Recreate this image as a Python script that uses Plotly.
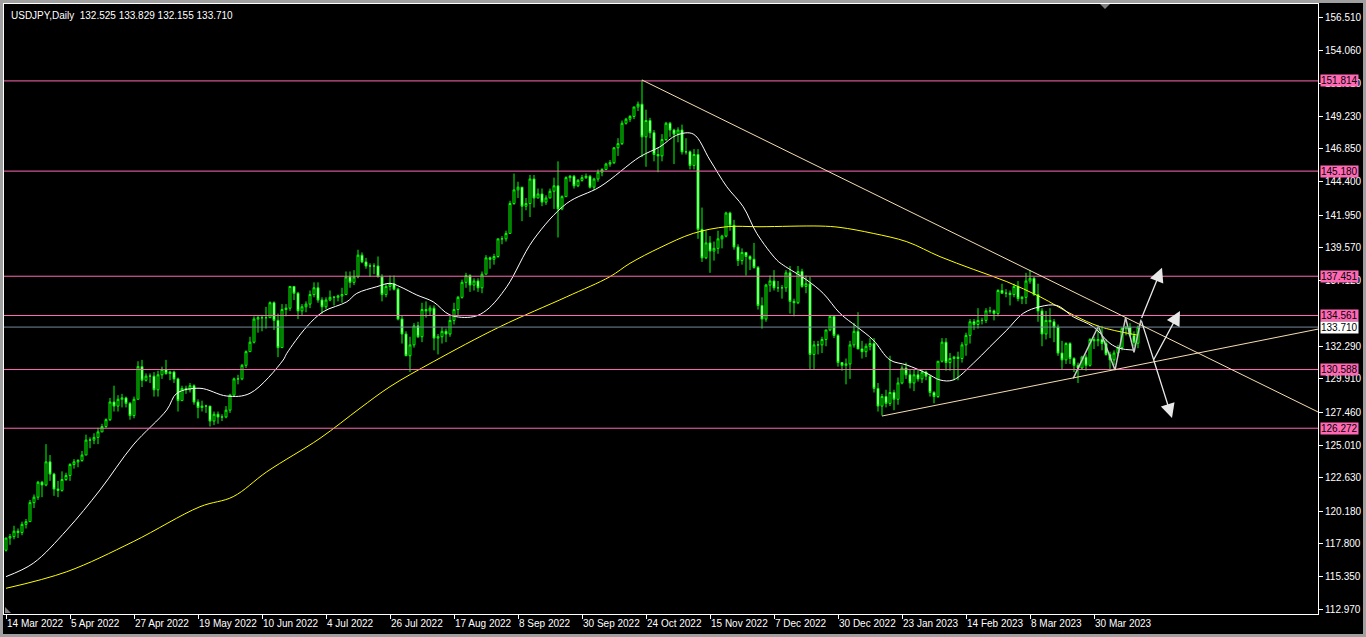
import plotly.graph_objects as go

# ---------------- data ----------------
date_labels = ["14 Mar 2022", "5 Apr 2022", "27 Apr 2022", "19 May 2022", "10 Jun 2022",
               "4 Jul 2022", "26 Jul 2022", "17 Aug 2022", "8 Sep 2022", "30 Sep 2022",
               "24 Oct 2022", "15 Nov 2022", "7 Dec 2022", "30 Dec 2022", "23 Jan 2023",
               "14 Feb 2023", "8 Mar 2023", "30 Mar 2023"]
label_bars = [0, 16, 32, 48, 64, 80, 96, 112, 128, 144, 160, 176, 192, 208, 224, 240, 256, 272]

# daily OHLC (bar index 0 = 14 Mar 2022 ... 283 = 14 Apr 2023)
ohlc = [
    (117.3, 118.2, 117.2, 118.2), (118.2, 118.5, 117.7, 118.3), (118.3, 119.1, 118.1, 118.7),
    (118.7, 118.9, 118.2, 118.6), (118.6, 119.4, 118.4, 119.2), (119.2, 119.6, 118.9, 119.4),
    (119.4, 121.0, 119.4, 120.8), (120.8, 121.4, 120.4, 121.2), (121.2, 122.4, 121.0, 122.3),
    (122.3, 122.4, 121.2, 122.1), (122.1, 125.1, 122.0, 123.8), (123.8, 124.3, 122.4, 122.9),
    (122.9, 123.0, 121.3, 121.8), (121.8, 122.4, 121.2, 121.7), (121.7, 123.1, 121.6, 122.5),
    (122.5, 123.0, 122.4, 122.8), (122.8, 123.7, 122.4, 123.6), (123.6, 124.0, 123.3, 123.8),
    (123.8, 124.0, 123.4, 123.9), (123.9, 124.6, 123.8, 124.3), (124.3, 125.8, 124.3, 125.4),
    (125.4, 125.6, 124.8, 125.4), (125.4, 125.9, 125.1, 125.6), (125.6, 126.3, 125.1, 126.0),
    (126.0, 126.6, 126.0, 126.4), (126.4, 127.0, 126.3, 126.9), (126.9, 128.5, 126.8, 128.2),
    (128.2, 129.4, 127.5, 127.9), (127.9, 128.7, 127.5, 128.4), (128.4, 128.8, 127.8, 128.5),
    (128.5, 128.6, 127.8, 128.1), (128.1, 128.2, 126.9, 127.2), (127.2, 128.6, 127.0, 128.4),
    (128.4, 131.2, 128.4, 130.8), (130.8, 131.3, 129.3, 129.8), (129.8, 130.3, 129.7, 130.1),
    (130.1, 130.3, 129.6, 130.1), (130.1, 130.4, 128.6, 129.1), (129.1, 130.5, 128.6, 130.2),
    (130.2, 130.8, 129.9, 130.6), (130.6, 131.3, 130.2, 130.3), (130.3, 130.5, 129.8, 130.4),
    (130.4, 130.5, 129.6, 129.9), (129.9, 130.0, 127.5, 128.3), (128.3, 129.4, 128.3, 129.2),
    (129.2, 129.4, 128.8, 129.1), (129.1, 129.6, 128.9, 129.4), (129.4, 129.5, 128.0, 128.2),
    (128.2, 128.4, 127.0, 127.8), (127.8, 128.3, 127.5, 127.9), (127.9, 128.0, 127.4, 127.9),
    (127.9, 127.9, 126.4, 126.8), (126.8, 127.5, 126.5, 127.3), (127.3, 127.5, 126.6, 127.1),
    (127.1, 127.3, 126.8, 127.1), (127.1, 127.9, 127.0, 127.6), (127.6, 128.8, 127.4, 128.7),
    (128.7, 130.0, 128.7, 129.9), (129.9, 130.2, 129.5, 129.9), (129.9, 131.0, 129.8, 130.9),
    (130.9, 132.0, 130.7, 131.9), (131.9, 133.0, 131.9, 132.6), (132.6, 134.5, 132.5, 134.3),
    (134.3, 134.6, 133.3, 134.4), (134.4, 134.6, 133.4, 134.4), (134.4, 135.2, 133.6, 134.4),
    (134.4, 135.6, 134.4, 135.5), (135.5, 135.6, 133.5, 134.2), (134.2, 134.7, 131.5, 132.2),
    (132.2, 135.4, 132.2, 135.0), (135.0, 135.4, 134.5, 135.1), (135.1, 136.7, 134.9, 136.7),
    (136.7, 136.7, 135.7, 136.2), (136.2, 136.3, 134.3, 134.9), (134.9, 135.4, 134.6, 135.2),
    (135.2, 135.6, 134.8, 135.4), (135.4, 136.4, 135.1, 136.1), (136.1, 137.0, 135.9, 136.6),
    (136.6, 137.0, 135.5, 135.7), (135.7, 135.9, 134.7, 135.2), (135.2, 135.9, 135.0, 135.7),
    (135.7, 136.4, 135.6, 135.9), (135.9, 136.0, 135.3, 135.9), (135.9, 136.1, 135.6, 136.0),
    (136.0, 136.6, 135.5, 136.1), (136.1, 137.8, 136.1, 137.4), (137.4, 137.8, 136.6, 137.0),
    (137.0, 137.9, 136.8, 137.4), (137.4, 139.4, 137.3, 139.0), (139.0, 139.2, 138.4, 138.5),
    (138.5, 138.8, 138.0, 138.2), (138.2, 138.4, 137.4, 138.2), (138.2, 138.4, 137.6, 138.2),
    (138.2, 138.9, 137.4, 137.4), (137.4, 137.6, 135.6, 136.1), (136.1, 136.9, 135.9, 136.7),
    (136.7, 137.5, 136.4, 136.9), (136.9, 137.5, 136.4, 136.5), (136.5, 136.6, 134.2, 134.3),
    (134.3, 134.6, 132.5, 133.2), (133.2, 133.4, 131.6, 131.6), (131.6, 133.0, 130.4, 132.4),
    (132.4, 134.0, 132.2, 133.8), (133.8, 134.1, 132.9, 133.0), (133.0, 135.5, 132.6, 135.0),
    (135.0, 135.6, 134.4, 134.9), (134.9, 135.3, 134.6, 135.1), (135.1, 135.3, 132.0, 132.9),
    (132.9, 133.2, 131.7, 133.0), (133.0, 133.7, 132.5, 133.4), (133.4, 133.6, 132.6, 133.2),
    (133.2, 134.6, 133.0, 134.2), (134.2, 135.5, 133.9, 135.0), (135.0, 136.0, 134.6, 135.9),
    (135.9, 137.2, 135.8, 137.0), (137.0, 137.7, 136.6, 137.5), (137.5, 137.6, 136.3, 136.8),
    (136.8, 137.3, 136.4, 137.1), (137.1, 137.3, 136.3, 136.6), (136.6, 137.8, 136.2, 137.6),
    (137.6, 139.0, 137.6, 138.8), (138.8, 138.9, 138.0, 138.7), (138.7, 139.1, 138.3, 138.9),
    (138.9, 140.2, 138.8, 140.2), (140.2, 140.4, 139.8, 140.2), (140.2, 140.8, 140.0, 140.6),
    (140.6, 143.0, 140.6, 142.8), (142.8, 145.0, 142.7, 143.8), (143.8, 144.4, 143.2, 144.0),
    (144.0, 144.0, 141.5, 142.6), (142.6, 143.2, 142.3, 142.8), (142.8, 144.9, 141.8, 144.6),
    (144.6, 144.9, 142.5, 143.2), (143.2, 143.9, 143.2, 143.5), (143.5, 143.9, 142.6, 142.9),
    (142.9, 143.4, 142.7, 143.2), (143.2, 143.9, 143.2, 143.7), (143.7, 144.7, 142.4, 144.1),
    (144.1, 145.9, 140.3, 142.4), (142.4, 143.4, 142.3, 143.3), (143.3, 144.8, 143.3, 144.7),
    (144.7, 144.9, 144.4, 144.8), (144.8, 144.9, 143.9, 144.1), (144.1, 144.6, 144.0, 144.5),
    (144.5, 144.9, 144.4, 144.7), (144.7, 145.0, 144.6, 144.8), (144.8, 144.9, 143.9, 144.0),
    (144.0, 144.7, 143.8, 144.6), (144.6, 145.3, 144.4, 145.1), (145.1, 145.4, 144.8, 145.3),
    (145.3, 145.8, 145.3, 145.7), (145.7, 146.0, 145.5, 145.8), (145.8, 146.9, 145.7, 146.9),
    (146.9, 147.6, 146.3, 147.2), (147.2, 148.9, 147.1, 148.7), (148.7, 149.1, 148.6, 149.0),
    (149.0, 149.3, 148.8, 149.2), (149.2, 149.9, 149.0, 149.9), (149.9, 150.3, 149.6, 150.1),
    (150.1, 151.9, 146.2, 147.7), (147.7, 149.7, 145.5, 148.9), (148.9, 149.1, 147.6, 148.0),
    (148.0, 148.2, 145.9, 146.4), (146.4, 146.9, 145.1, 146.3), (146.3, 147.9, 145.9, 147.5),
    (147.5, 148.8, 147.4, 148.7), (148.7, 148.8, 147.7, 148.2), (148.2, 148.3, 145.7, 147.9),
    (147.9, 148.4, 147.3, 148.2), (148.2, 148.6, 146.4, 146.6), (146.6, 147.6, 146.4, 146.6),
    (146.6, 146.7, 145.3, 145.6), (145.6, 146.8, 145.3, 146.4), (146.4, 146.8, 140.2, 140.9),
    (140.9, 142.5, 138.5, 138.8), (138.8, 140.8, 138.7, 139.9), (139.9, 140.4, 137.7, 139.3),
    (139.3, 140.0, 138.6, 139.5), (139.5, 140.8, 139.1, 140.2), (140.2, 140.5, 139.5, 140.4),
    (140.4, 142.2, 140.3, 142.1), (142.1, 142.2, 140.8, 141.2), (141.2, 141.6, 139.4, 139.6),
    (139.6, 139.8, 138.2, 138.6), (138.6, 139.5, 138.3, 139.2), (139.2, 139.2, 137.5, 138.9),
    (138.9, 139.0, 137.9, 138.7), (138.7, 139.9, 138.0, 138.1), (138.1, 138.2, 135.0, 135.3),
    (135.3, 135.9, 133.6, 134.3), (134.3, 136.9, 134.1, 136.8), (136.8, 137.5, 136.3, 137.1),
    (137.1, 137.9, 136.4, 136.6), (136.6, 137.1, 136.3, 136.6), (136.6, 136.8, 135.8, 136.6),
    (136.6, 137.9, 136.3, 137.7), (137.7, 138.2, 134.7, 135.6), (135.6, 135.8, 134.5, 135.5),
    (135.5, 138.2, 135.4, 137.8), (137.8, 138.0, 136.6, 136.7), (136.7, 137.5, 136.2, 136.9),
    (136.9, 137.4, 130.6, 131.7), (131.7, 132.7, 130.6, 132.4), (132.4, 132.7, 131.7, 132.4),
    (132.4, 133.0, 131.8, 132.8), (132.8, 133.5, 132.3, 133.5), (133.5, 134.5, 133.4, 134.5),
    (134.5, 134.6, 132.9, 133.1), (133.1, 133.2, 130.8, 131.1), (131.1, 131.1, 130.5, 130.9),
    (130.9, 131.4, 129.5, 131.0), (131.0, 132.7, 129.9, 132.4), (132.4, 134.0, 132.2, 133.4),
    (133.4, 134.8, 132.1, 132.1), (132.1, 132.7, 131.4, 131.9), (131.9, 132.5, 131.5, 132.3),
    (132.3, 132.9, 132.0, 132.5), (132.5, 132.9, 128.9, 129.2), (129.2, 129.6, 127.5, 127.9),
    (127.9, 128.8, 127.2, 128.6), (128.6, 129.1, 127.8, 128.1), (128.1, 131.6, 127.9, 128.9),
    (128.9, 129.1, 127.6, 128.4), (128.4, 130.0, 128.0, 129.6), (129.6, 130.9, 129.5, 130.7),
    (130.7, 131.1, 129.9, 130.2), (130.2, 130.6, 129.2, 129.6), (129.6, 130.6, 129.0, 130.2),
    (130.2, 130.6, 129.7, 129.9), (129.9, 130.6, 129.6, 130.4), (130.4, 130.5, 129.8, 130.1),
    (130.1, 130.2, 128.6, 128.9), (128.9, 129.0, 128.1, 128.6), (128.6, 131.2, 128.5, 131.2),
    (131.2, 132.9, 131.1, 132.6), (132.6, 132.9, 130.5, 131.1), (131.1, 131.8, 130.5, 131.4),
    (131.4, 131.6, 129.8, 131.5), (131.5, 131.9, 129.8, 131.4), (131.4, 132.6, 131.1, 132.4),
    (132.4, 133.3, 131.6, 133.1), (133.1, 134.3, 132.5, 134.1), (134.1, 134.3, 133.5, 133.9),
    (133.9, 135.1, 133.6, 134.2), (134.2, 134.4, 133.9, 134.2), (134.2, 135.1, 134.0, 134.9),
    (134.9, 135.2, 134.7, 134.9), (134.9, 135.0, 134.2, 134.7), (134.7, 136.5, 134.5, 136.4),
    (136.4, 136.9, 136.2, 136.2), (136.2, 136.5, 135.9, 136.2), (136.2, 136.4, 135.3, 136.1),
    (136.1, 136.9, 135.9, 136.7), (136.7, 137.1, 135.6, 135.8), (135.8, 136.0, 135.4, 135.9),
    (135.9, 137.7, 135.4, 137.1), (137.1, 137.9, 136.9, 137.3), (137.3, 137.4, 136.0, 136.1),
    (136.1, 136.9, 134.1, 134.9), (134.9, 135.1, 132.3, 133.2), (133.2, 134.9, 132.8, 134.2),
    (134.2, 135.1, 132.9, 134.1), (134.1, 134.3, 132.6, 133.7), (133.7, 133.9, 131.6, 131.8),
    (131.8, 132.7, 130.6, 131.3), (131.3, 132.6, 131.0, 132.5), (132.5, 132.6, 131.0, 131.4),
    (131.4, 131.5, 130.4, 130.9), (130.9, 131.1, 129.6, 130.7), (130.7, 131.6, 130.6, 131.5),
    (131.5, 131.7, 130.5, 130.9), (130.9, 132.9, 130.8, 132.8), (132.8, 133.0, 132.1, 132.7),
    (132.7, 133.6, 132.3, 132.8), (132.8, 133.8, 132.0, 132.5), (132.5, 132.8, 131.6, 131.7),
    (131.7, 131.9, 130.6, 131.3), (131.3, 132.0, 130.9, 131.8), (131.8, 132.4, 131.6, 132.2),
    (132.2, 133.7, 132.0, 133.6), (133.6, 133.8, 133.1, 133.7), (133.7, 134.0, 133.0, 133.1),
    (133.1, 133.4, 132.3, 132.6), (132.525, 133.829, 132.155, 133.710),
]
opens = [r[0] for r in ohlc]
highs = [r[1] for r in ohlc]
lows = [r[2] for r in ohlc]
closes = [r[3] for r in ohlc]
bars = list(range(len(ohlc)))

# moving averages (bar index, price)
ma_fast_x = [0, 6.8, 15.2, 23.5, 31.8, 40.2, 42.7, 48.5, 55.2, 61, 69.3, 70.2, 75.2, 79.3, 85.2,
             87.7, 92.7, 96, 98.5, 102.7, 106.8, 111, 116.8, 120.2, 125.2, 131.8, 140.2, 148.5,
             158.5, 163.5, 167.7, 171.8, 176, 180.2, 184.3, 187.7, 192.7, 194.3, 200.2, 204.3,
             208.5, 212.7, 216.8, 221, 225.2, 230.2, 233.5, 236.8, 241.8, 246, 250.2, 254.3,
             258.5, 262.7, 266.8, 271.8, 276, 278.5, 281.8]
ma_fast_y = [115.36, 116.34, 118.79, 121.73, 125.04, 127.62, 128.84, 129.21, 128.64, 128.84,
             131.29, 131.78, 133.74, 134.84, 135.57, 136.19, 136.68, 136.93, 136.68, 136.07,
             135.57, 134.60, 134.47, 134.97, 136.68, 140.11, 142.81, 144.03, 146.24, 146.97,
             147.83, 147.91, 145.99, 144.03, 142.56, 140.60, 138.64, 138.27, 137.17, 136.19,
             134.72, 133.74, 132.76, 131.29, 130.92, 130.31, 129.82, 129.82, 131.04, 132.27,
             133.49, 134.72, 135.21, 135.30, 134.47, 133.74, 132.51, 132.14, 132.02]
ma_slow_x = [0, 15.2, 31.8, 48.5, 56.8, 65.2, 78.5, 88.5, 96, 106.8, 123.5, 140.2, 151, 156,
             163.5, 171.8, 180.2, 188.5, 203.5, 208.5, 216.8, 225.2, 233.5, 241.8, 250.2,
             258.5, 266.8, 273.5, 282.7]
ma_slow_y = [114.50, 115.72, 117.93, 120.50, 121.24, 123.07, 125.53, 127.74, 129.33, 131.16,
             133.74, 135.94, 137.42, 138.40, 139.55, 140.60, 141.09, 141.09, 141.14, 141.04,
             140.60, 139.99, 138.89, 137.96, 137.05, 135.94, 134.60, 133.74, 133.13]

# horizontal levels and current price
levels = [151.814, 145.180, 137.451, 134.561, 130.588, 126.272]
current_price = 133.710
y_ticks = [156.510, 154.060, 151.610, 149.230, 146.850, 144.400, 141.950, 139.570, 137.120,
           132.290, 129.910, 127.460, 125.010, 122.630, 120.180, 117.800, 115.350, 112.970]

# drawn objects (bar index, price)
trend_lines = [((159, 151.88), (328, 127.47)), ((219, 127.17), (328, 133.56))]
zigzag_x = [266.8, 273.1, 277.25, 279.9, 282.0, 283.75]
zigzag_y = [129.94, 133.79, 130.55, 134.40, 131.86, 134.26]
arrows = [((283.75, 134.26), (289.0, 138.08)),
          ((283.75, 134.26), (291.5, 127.02)),
          ((286.75, 131.22), (293.5, 134.90))]

# ---------------- figure ----------------
W, H = 1366, 637
ML, MR, MT, MB = 4, 48, 4, 23
PW, PH = W - ML - MR, H - MT - MB


def px_x(p):
    return (p - ML) / PW


def px_y(p):
    return (H - MB - p) / PH


FONT = "Liberation Sans"
fig = go.Figure()

fig.add_trace(go.Candlestick(
    x=bars, open=opens, high=highs, low=lows, close=closes,
    increasing=dict(line=dict(color="#00FF00", width=1), fillcolor="#000000"),
    decreasing=dict(line=dict(color="#00FF00", width=1), fillcolor="#FFFFFF"),
    whiskerwidth=0, showlegend=False, hoverinfo="skip"))

fig.add_trace(go.Scatter(x=ma_slow_x, y=ma_slow_y, mode="lines",
                         line=dict(color="#FFFF00", width=1, shape="spline"),
                         showlegend=False, hoverinfo="skip"))
fig.add_trace(go.Scatter(x=ma_fast_x, y=ma_fast_y, mode="lines",
                         line=dict(color="#FFFFFF", width=1, shape="spline"),
                         showlegend=False, hoverinfo="skip"))

shapes = []
# window frame (gray bevel)
shapes.append(dict(type="rect", xref="paper", yref="paper", layer="below",
                   x0=px_x(3), x1=px_x(1363), y0=px_y(634), y1=px_y(3),
                   fillcolor="#000000", line=dict(width=0)))
for lv in levels:
    shapes.append(dict(type="line", xref="paper", yref="y", x0=0, x1=1, y0=lv, y1=lv,
                       line=dict(color="#FF69B4", width=1)))
shapes.append(dict(type="line", xref="paper", yref="y", x0=0, x1=1, y0=current_price,
                   y1=current_price, line=dict(color="#778899", width=1)))
for (a, b) in trend_lines:
    shapes.append(dict(type="line", xref="x", yref="y", x0=a[0], y0=a[1], x1=b[0], y1=b[1],
                       line=dict(color="#F5DEB3", width=1)))
# chart-shift marker at top and corner marker
shapes.append(dict(type="path", xref="paper", yref="paper",
                   path=f"M {px_x(1100)} {px_y(4)} L {px_x(1110)} {px_y(4)} L {px_x(1105)} {px_y(9)} Z",
                   fillcolor="#808080", line=dict(width=0)))
shapes.append(dict(type="path", xref="paper", yref="paper",
                   path=f"M {px_x(5)} {px_y(607)} L {px_x(5)} {px_y(613)} L {px_x(11)} {px_y(613)} Z",
                   fillcolor="#808080", line=dict(width=0)))

fig.add_trace(go.Scatter(x=zigzag_x, y=zigzag_y, mode="lines",
                         line=dict(color="#C8C8C8", width=1.5),
                         showlegend=False, hoverinfo="skip"))

annotations = []
for (a, b) in arrows:
    annotations.append(dict(x=b[0], y=b[1], ax=a[0], ay=a[1], xref="x", yref="y",
                            axref="x", ayref="y", text="", showarrow=True,
                            arrowhead=2, arrowsize=2.2, arrowwidth=1.3,
                            arrowcolor="#E8E8E8"))

for lv in levels:
    annotations.append(dict(x=1, y=lv, xref="paper", yref="y", xanchor="left", yanchor="middle",
                            xshift=2, text=f"{lv:.3f}", showarrow=False, bgcolor="#FF69B4",
                            borderpad=0, font=dict(family=FONT, size=10, color="#000000")))
annotations.append(dict(x=1, y=current_price, xref="paper", yref="y", xanchor="left",
                        yanchor="middle", xshift=2, text=f"{current_price:.3f}", showarrow=False,
                        bgcolor="#FFFFFF", borderpad=0,
                        font=dict(family=FONT, size=10, color="#000000")))
annotations.append(dict(x=0, y=1, xref="paper", yref="paper", xanchor="left", yanchor="top",
                        xshift=5, yshift=-4,
                        text=f"USDJPY,Daily  {opens[-1]:.3f} {highs[-1]:.3f} {lows[-1]:.3f} {closes[-1]:.3f}",
                        showarrow=False, font=dict(family=FONT, size=10, color="#FFFFFF")))

fig.update_layout(
    width=W, height=H, margin=dict(l=ML, r=MR, t=MT, b=MB, autoexpand=False),
    paper_bgcolor="#A0A0A0", plot_bgcolor="#000000",
    shapes=shapes, annotations=annotations, showlegend=False,
    xaxis=dict(range=[-0.5, 328], showgrid=False, zeroline=False, showline=True, mirror=True,
               linecolor="#FFFFFF", linewidth=1, tickmode="array", tickvals=label_bars,
               ticktext=date_labels, ticks="outside", ticklen=4, tickcolor="#FFFFFF",
               tickangle=0, automargin=False, ticklabelposition="outside right",
               tickfont=dict(family=FONT, size=10, color="#FFFFFF"),
               rangeslider=dict(visible=False), fixedrange=True),
    yaxis=dict(range=[112.61, 157.47], side="right", showgrid=False, zeroline=False,
               showline=True, mirror=True, linecolor="#FFFFFF", linewidth=1,
               tickmode="array", tickvals=y_ticks, ticktext=[f"{v:.3f}" for v in y_ticks],
               ticks="outside", ticklen=4, tickcolor="#FFFFFF", automargin=False,
               tickfont=dict(family=FONT, size=10, color="#FFFFFF"), fixedrange=True),
)

fig.write_html("out.html", config={"displayModeBar": False},
               post_script="document.body.style.margin='0';document.body.style.overflow='hidden';")
